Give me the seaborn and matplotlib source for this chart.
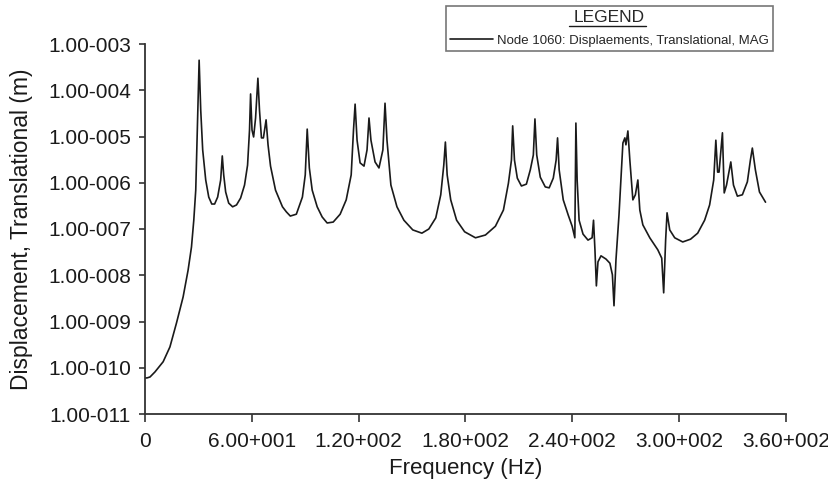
import numpy as np
import pandas as pd
import matplotlib
matplotlib.use("Agg")
import matplotlib.pyplot as plt
from matplotlib.lines import Line2D
import seaborn as sns

# ---- data (frequency in Hz, log10 of displacement in m) ----
freq_hz = [0, 1.1, 2.8, 5.6, 10.2, 14.0, 17.7, 21.4, 24.2, 26.1, 27.4, 28.5, 29.4, 29.9, 30.4,
           30.8, 31.3, 32.4, 34.1, 35.8, 37.5, 39.1, 40.8, 42.5, 43.4, 44.2, 45.3, 47.0, 49.2,
           51.4, 53.7, 55.9, 57.6, 58.7, 59.3, 60.1, 61.0, 62.1, 63.4, 64.3, 65.4, 66.5, 68.0,
           69.1, 70.5, 73.3, 77.2, 79.4, 81.6, 85.0, 88.4, 90.0, 91.1, 92.3, 93.9, 96.7, 99.5,
           102.3, 105.7, 109.6, 113.0, 115.8, 117.1, 118.0, 119.1, 120.8, 123.0, 124.7, 125.8,
           126.9, 129.2, 131.4, 133.6, 134.8, 135.9, 138.1, 141.5, 145.4, 150.4, 155.5, 159.4,
           163.3, 166.1, 167.8, 168.7, 169.7, 171.7, 175.0, 179.5, 185.6, 191.2, 196.8, 201.3,
           204.1, 205.8, 206.5, 207.5, 209.1, 211.4, 214.2, 216.4, 218.1, 219.0, 220.0, 222.0,
           224.8, 227.0, 229.3, 230.9, 231.7, 232.6, 234.9, 237.7, 239.9, 241.4, 242.0, 242.7,
           243.8, 246.0, 248.8, 251.1, 251.9, 252.7, 253.5, 254.4, 256.1, 258.9, 261.1, 262.5,
           263.4, 264.5, 266.2, 267.3, 268.4, 269.5, 270.1, 271.2, 272.3, 274.0, 275.4, 276.8,
           277.9, 279.6, 283.5, 288.0, 290.2, 291.3, 292.4, 293.2, 294.7, 297.5, 302.0, 306.4,
           310.4, 314.3, 317.1, 319.4, 320.6, 321.6, 322.4, 324.3, 325.3, 326.6, 329.0, 330.5,
           332.7, 335.5, 338.3, 340.0, 341.1, 342.8, 345.1, 348.5]

log10_disp = [-10.22, -10.22, -10.20, -10.09, -9.87, -9.55, -9.03, -8.47, -7.89, -7.39, -6.81,
              -6.16, -4.86, -4.21, -3.35, -3.84, -4.43, -5.29, -5.94, -6.31, -6.46, -6.46, -6.31,
              -5.94, -5.42, -5.83, -6.20, -6.44, -6.52, -6.48, -6.33, -6.05, -5.62, -4.86, -4.08,
              -4.86, -5.01, -4.60, -3.74, -4.43, -5.03, -5.03, -4.64, -5.18, -5.64, -6.16, -6.52,
              -6.63, -6.72, -6.68, -6.31, -5.83, -4.84, -5.68, -6.16, -6.52, -6.74, -6.87, -6.85,
              -6.68, -6.37, -5.83, -4.86, -4.30, -5.08, -5.57, -5.64, -5.29, -4.60, -5.08, -5.55,
              -5.68, -5.29, -4.28, -5.08, -6.05, -6.52, -6.81, -7.02, -7.09, -7.00, -6.76, -6.26,
              -5.62, -5.12, -5.83, -6.37, -6.81, -7.06, -7.19, -7.13, -6.94, -6.59, -6.01, -5.51,
              -4.77, -5.51, -5.90, -6.07, -6.03, -5.72, -5.40, -4.62, -5.40, -5.88, -6.09, -6.11,
              -5.90, -5.51, -5.03, -5.72, -6.37, -6.70, -6.94, -7.19, -4.71, -5.94, -6.81, -7.11,
              -7.24, -7.19, -6.81, -7.45, -8.23, -7.71, -7.58, -7.65, -7.74, -7.99, -8.66, -7.67,
              -6.70, -5.94, -5.14, -5.03, -5.18, -4.88, -5.51, -6.37, -6.26, -5.94, -6.59, -6.91,
              -7.19, -7.45, -7.63, -8.38, -7.24, -6.65, -7.02, -7.19, -7.28, -7.22, -7.09, -6.81,
              -6.48, -5.94, -5.08, -5.77, -5.77, -4.92, -6.22, -6.05, -5.55, -6.05, -6.29, -6.26,
              -5.98, -5.51, -5.25, -5.72, -6.20, -6.42]

x_ticks = [0, 60, 120, 180, 240, 300, 360]
x_tick_labels = ["0", "6.00+001", "1.20+002", "1.80+002", "2.40+002", "3.00+002", "3.60+002"]
y_ticks = [1e-11, 1e-10, 1e-9, 1e-8, 1e-7, 1e-6, 1e-5, 1e-4, 1e-3]
y_tick_labels = ["1.00-011", "1.00-010", "1.00-009", "1.00-008", "1.00-007",
                 "1.00-006", "1.00-005", "1.00-004", "1.00-003"]
series_label = "Node 1060: Displaements, Translational, MAG"

df = pd.DataFrame({"Frequency": freq_hz,
                   "Displacement": np.power(10.0, np.array(log10_disp))})

sns.set_theme(style="white")
plt.rcParams["font.family"] = ["Liberation Sans", "DejaVu Sans"]

W, H = 829, 488
fig = plt.figure(figsize=(W / 100, H / 100), dpi=100)
ax = fig.add_axes([145 / W, 1 - 414 / H, (786 - 145) / W, (414 - 44) / H])

sns.lineplot(data=df, x="Frequency", y="Displacement", ax=ax, color="#1a1a1a",
             linewidth=1.2, estimator=None, sort=False, label=series_label)

ax.set_yscale("log")
ax.set_xlim(0, 360)
ax.set_ylim(1e-11, 1e-3)
ax.set_xticks(x_ticks)
ax.set_xticklabels(x_tick_labels)
ax.set_yticks(y_ticks)
ax.set_yticklabels(y_tick_labels)
ax.minorticks_off()

for side in ["top", "right"]:
    ax.spines[side].set_visible(False)
for side in ["left", "bottom"]:
    ax.spines[side].set_color("#333333")
    ax.spines[side].set_linewidth(1.3)

ax.tick_params(axis="y", which="major", direction="out", length=4, width=1.2,
               color="#333333", labelsize=15, labelcolor="#1a1a1a", pad=6, left=True)
ax.tick_params(axis="x", which="major", direction="out", length=6, width=1.2,
               color="#333333", labelsize=15, labelcolor="#1a1a1a", pad=7, bottom=True)

ax.set_xlabel("Frequency (Hz)", fontsize=16, color="#1a1a1a", labelpad=5)
ax.set_ylabel("Displacement, Translational (m)", fontsize=16.5, color="#1a1a1a", labelpad=11)

leg = ax.legend(loc="upper right", bbox_to_anchor=(773 / W, 1 - 6 / H),
                bbox_transform=fig.transFigure, borderaxespad=0, frameon=True,
                fancybox=False, edgecolor="#777777", framealpha=1, fontsize=9.5,
                title="LEGEND", title_fontsize=12.5, handlelength=3.2,
                handletextpad=0.35, borderpad=0.3, labelspacing=0.75)
leg.get_frame().set_linewidth(1.2)
for lh in leg.get_lines():
    lh.set_linewidth(1.2)

fig.canvas.draw()
renderer = fig.canvas.get_renderer()
tb = leg.get_title().get_window_extent(renderer)
uy = (tb.y0 - 1) / H
fig.add_artist(Line2D([(tb.x0 - 5) / W, (tb.x1 + 1) / W], [uy, uy],
                      transform=fig.transFigure, color="#1a1a1a", linewidth=1.0))

fig.savefig("out.png", dpi=100)
